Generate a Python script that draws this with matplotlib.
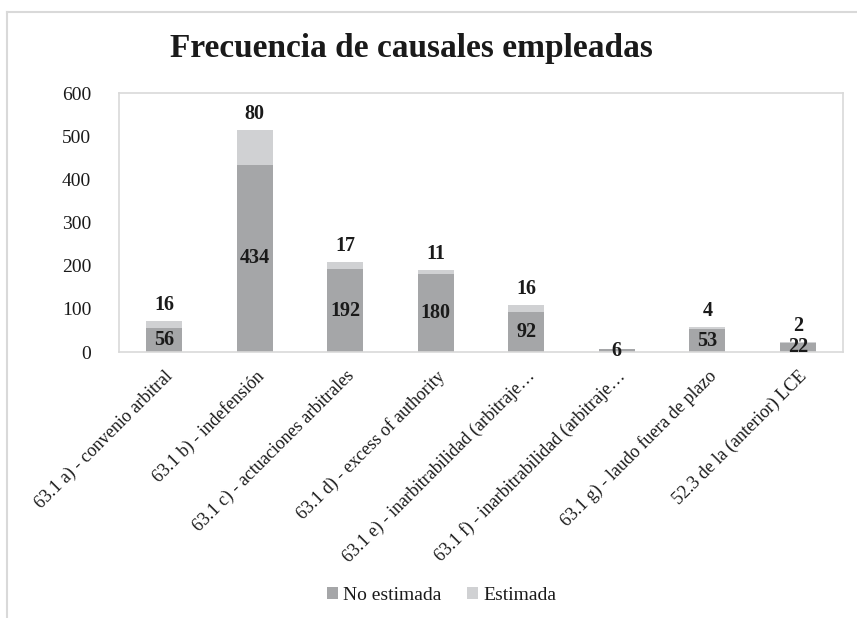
import matplotlib
matplotlib.use("Agg")
import matplotlib.pyplot as plt
from matplotlib.lines import Line2D
import numpy as np

plt.rcParams['font.family'] = ['Liberation Serif', 'DejaVu Serif']

categories = [
    "63.1 a) - convenio arbitral",
    "63.1 b) - indefensión",
    "63.1 c) - actuaciones arbitrales",
    "63.1 d) - excess of authority",
    "63.1 e) - inarbitrabilidad (arbitraje…",
    "63.1 f) - inarbitrabilidad (arbitraje…",
    "63.1 g) - laudo fuera de plazo",
    "52.3 de la (anterior) LCE",
]
no_estimada = [56, 434, 192, 180, 92, 6, 53, 22]
estimada = [16, 80, 17, 11, 16, 0, 4, 2]
yticks = [0, 100, 200, 300, 400, 500, 600]

c_dark = "#A5A6A8"
c_light = "#D0D1D3"
txt = "#1a1a1a"

fig = plt.figure(figsize=(8.57, 6.18), dpi=100)
ax = fig.add_axes([0.1389, 0.4304, 0.8448, 0.4191])

x = np.arange(len(categories))
w = 0.4
ax.bar(x, no_estimada, w, color=c_dark, label="No estimada", zorder=2)
ax.bar(x, estimada, w, bottom=no_estimada, color=c_light, label="Estimada", zorder=2)

for xi, n, e in zip(x, no_estimada, estimada):
    ax.text(xi, n / 2, str(n), ha="center", va="center", fontsize=14.5,
            fontweight="bold", color=txt, zorder=3)
    if e > 0:
        ax.text(xi, n + e + 14, str(e), ha="center", va="bottom", fontsize=14.5,
                fontweight="bold", color=txt, zorder=3)

ax.set_xlim(-0.5, len(categories) - 0.5)
ax.set_ylim(0, 600)
ax.set_yticks(yticks)
ax.set_yticklabels([str(v) for v in yticks], fontsize=14, color=txt)
ax.set_xticks(x)
ax.set_xticklabels(categories, rotation=45, ha="right", rotation_mode="anchor",
                   fontsize=13, color=txt)
ax.tick_params(axis="y", length=0, pad=20)
ax.tick_params(axis="x", length=0, pad=11)
for s in ax.spines.values():
    s.set_color("#D9D9D9")
    s.set_linewidth(1.2)

fig.text(0.48, 0.922, "Frecuencia de causales empleadas", ha="center", va="center",
         fontsize=24, fontweight="bold", color=txt)

leg = fig.legend(loc="center", bbox_to_anchor=(0.515, 0.037), ncol=2, frameon=False,
                 fontsize=14, handlelength=0.6, handleheight=0.6, handletextpad=0.25,
                 columnspacing=1.3)
for t in leg.get_texts():
    t.set_color(txt)

# outer chart frame (partially visible)
fig.add_artist(Line2D([0.008, 1.0], [1 - 12 / 618, 1 - 12 / 618], color="#D9D9D9",
                      lw=1.5, transform=fig.transFigure))
fig.add_artist(Line2D([0.008, 0.008], [0, 1 - 12 / 618], color="#D9D9D9",
                      lw=1.5, transform=fig.transFigure))

fig.savefig("out.png", dpi=100)
